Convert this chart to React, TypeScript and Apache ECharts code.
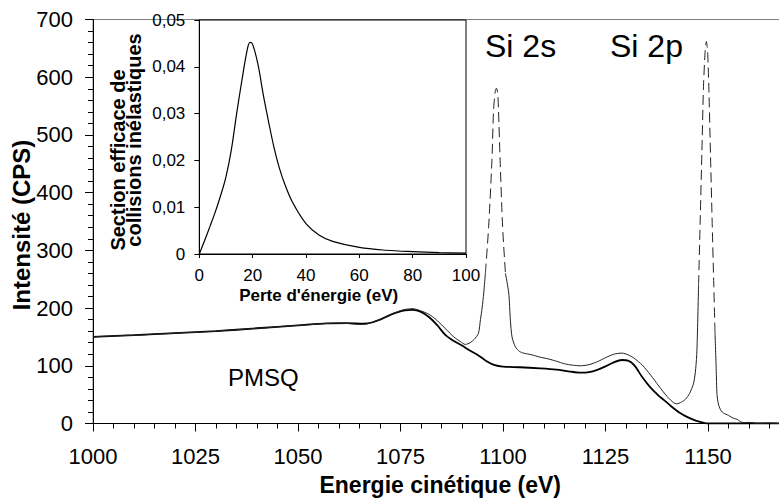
import React, { useEffect, useRef } from 'react';
import * as echarts from 'echarts';

// Main spectrum (thin line): kinetic energy (eV) and intensity (CPS)
const spectrumEnergy = [
  1000, 1002.5, 1005, 1007.5, 1010, 1012.5, 1015, 1017.5, 1020, 1022.5, 1025, 1027.5, 1030, 1032.5,
  1035, 1037.5, 1040, 1042.5, 1045, 1047.5, 1050, 1052.5, 1055, 1057.5, 1060, 1062.5, 1065, 1066.5,
  1068, 1070, 1072, 1074, 1076, 1078, 1080, 1082, 1084, 1086, 1088, 1089.6, 1090.8, 1092, 1093,
  1094, 1094.5, 1094.9, 1095.3, 1095.7, 1096.5, 1097.3, 1097.7, 1098.1, 1098.4, 1098.7, 1098.9,
  1099.3, 1099.9, 1100.6, 1101.4, 1101.8, 1102.2, 1103, 1104, 1105, 1107, 1109, 1111, 1113, 1115,
  1117, 1119, 1121, 1123, 1125, 1127, 1129, 1130.5, 1132, 1134, 1136, 1138, 1140, 1141.6, 1142.4,
  1143.5, 1144.5, 1145.5, 1146.5, 1147, 1147.3, 1147.7, 1148.1, 1148.5, 1148.9, 1149.3, 1149.6,
  1149.9, 1150.2, 1150.6, 1151.0, 1151.4, 1151.7, 1152.0, 1152.2, 1152.6, 1153.2, 1153.8, 1155,
  1156.2, 1157.2, 1157.9, 1159, 1160, 1162, 1165, 1168, 1175
];
const spectrumCounts = [
  150, 151, 151.5, 152.5, 153, 153.5, 155, 155.5, 156.5, 157.5, 158, 159, 160, 161.5,
  162.5, 163.5, 165, 166, 167.5, 169, 170, 171, 172.5, 173.5, 174, 173, 171.5, 172,
  175, 180, 187, 193, 197.5, 199, 195, 189, 178, 164, 150, 142, 137, 140, 146,
  156, 180, 200, 226, 260, 341, 456, 543, 575, 581, 573, 543,
  456, 341, 260, 226, 179, 150, 133, 125, 122, 119, 115, 112, 108, 103.5,
  101, 100, 102, 107, 114, 120, 122, 119, 113, 101, 84, 65, 47, 36, 34,
  37, 42, 52, 70, 95, 127, 240, 353, 468, 584, 645, 662,
  645, 584, 468, 353, 243, 160, 95, 50, 32, 22, 18, 14,
  9, 7, 3, 1.5, 2, 0.5, 1, 0, 0.5
];

// Smooth background curve (thick line)
const backgroundEnergy = [
  1000, 1010, 1020, 1030, 1040, 1050, 1057, 1062, 1066, 1068, 1070, 1072, 1074, 1076, 1078, 1080,
  1082, 1084, 1086, 1088, 1090, 1092, 1094, 1096, 1098, 1100, 1104, 1109, 1113, 1116, 1119, 1121,
  1123, 1125, 1127, 1129, 1130.5, 1132, 1134, 1136, 1138, 1139.2, 1141, 1143, 1145, 1147, 1148.5,
  1150, 1175
];
const backgroundCounts = [
  150, 153, 156.5, 160, 165, 170, 173.5, 174, 173, 175, 180, 186.5, 192, 196, 197, 193.5,
  184, 170, 153, 143, 135, 126, 118, 108, 101, 98.5, 97.5, 95.6, 93.5, 90.5, 88, 89,
  93, 99, 106, 110, 109, 101, 80, 62, 48, 41, 30, 19, 11, 5, 2,
  0, 0
];

// Parts of the spectrum drawn dashed (the Si 2s and Si 2p peaks)
const dashedPeakRanges = [
  [1095.7, 1100.6],
  [1147.7, 1151.7]
];

// Inset: inelastic collision cross-section vs energy loss
const lossEnergy = [0, 2, 4, 6, 8, 10, 12, 14, 16, 18, 19, 20, 22, 24, 26, 28, 30, 32, 35, 40, 45, 50, 60, 70, 80, 90, 100];
const lossCrossSection = [
  0, 0.0029, 0.0059, 0.009, 0.0125, 0.0165, 0.0222, 0.03, 0.0372, 0.0437, 0.0452, 0.0448, 0.0405,
  0.034, 0.0282, 0.0228, 0.0184, 0.015, 0.011, 0.0065, 0.004, 0.0027, 0.0014, 0.0008, 0.0005,
  0.0003, 0.0002
];

const peakLabels = ['Si 2s', 'Si 2p'];
const sampleLabel = 'PMSQ';

const FONT = '"Liberation Sans", Arial, Helvetica, sans-serif';

function pairs(xs: number[], ys: number[]) {
  return xs.map((x, i) => [x, ys[i]]);
}

function buildSegments() {
  const pts = pairs(spectrumEnergy, spectrumCounts);
  const solid: number[][][] = [];
  const dashed: number[][][] = [];
  let start = spectrumEnergy[0];
  dashedPeakRanges.forEach(([a, b]) => {
    solid.push(pts.filter((p) => p[0] >= start && p[0] <= a));
    dashed.push(pts.filter((p) => p[0] >= a && p[0] <= b));
    start = b;
  });
  solid.push(pts.filter((p) => p[0] >= start));
  return { solid, dashed };
}

export default function App() {
  const ref = useRef<HTMLDivElement>(null);

  useEffect(() => {
    if (!ref.current) return;
    const chart = echarts.init(ref.current, undefined, { renderer: 'svg' });
    const { solid, dashed } = buildSegments();

    const solidSeries = solid.map((d) => ({
      type: 'line',
      xAxisIndex: 0,
      yAxisIndex: 0,
      data: d,
      showSymbol: false,
      smooth: 0.25,
      lineStyle: { color: '#222', width: 1 },
      z: 4,
    }));
    const dashedSeries = dashed.map((d) => ({
      type: 'line',
      xAxisIndex: 0,
      yAxisIndex: 0,
      data: d,
      showSymbol: false,
      smooth: 0.25,
      lineStyle: { color: '#222', width: 1, type: [10, 5] },
      z: 4,
    }));

    const option: any = {
      animation: false,
      backgroundColor: '#fff',
      grid: [
        {
          left: 93, top: 19.5, width: 717.5, height: 404, outerBoundsMode: 'none', containLabel: false,
          show: true, borderColor: '#808080', borderWidth: 1, backgroundColor: 'transparent',
        },
        {
          left: 199.3, top: 20, width: 266.7, height: 234, outerBoundsMode: 'none', containLabel: false,
          show: true, borderColor: '#000', borderWidth: 1, backgroundColor: '#fff', z: 5,
        },
      ],
      xAxis: [
        {
          gridIndex: 0, type: 'value', min: 1000, max: 1175, interval: 25,
          name: 'Energie cinétique (eV)', nameLocation: 'middle', nameGap: 50,
          nameTextStyle: { fontFamily: FONT, fontSize: 23, fontWeight: 'bold', color: '#000', padding: [0, 23, 0, 0] },
          axisLine: { show: true, onZero: false, lineStyle: { color: '#000', width: 1 } },
          axisTick: { show: true, inside: false, length: 8, lineStyle: { color: '#000' } },
          minorTick: { show: true, splitNumber: 5, length: 5, lineStyle: { color: '#000' } },
          axisLabel: {
            margin: 22, fontFamily: FONT, fontSize: 22, color: '#000', showMaxLabel: false,
            formatter: (v: number) => String(v),
          },
          splitLine: { show: false },
          minorSplitLine: { show: false },
        },
        {
          gridIndex: 1, type: 'value', min: 0, max: 100, interval: 20,
          name: "Perte d'énergie (eV)", nameLocation: 'middle', nameGap: 33,
          nameTextStyle: { fontFamily: FONT, fontSize: 17, fontWeight: 'bold', color: '#000', padding: [0, 28, 0, 0] },
          axisLine: { show: true, onZero: false, lineStyle: { color: '#000', width: 1 } },
          axisTick: { show: true, inside: false, length: 4, lineStyle: { color: '#000' } },
          axisLabel: { margin: 13, fontFamily: FONT, fontSize: 17, color: '#000', formatter: (v: number) => String(v) },
          splitLine: { show: false },
          z: 10,
        },
      ],
      yAxis: [
        {
          gridIndex: 0, type: 'value', min: 0, max: 700, interval: 100,
          axisLine: { show: true, onZero: false, lineStyle: { color: '#000', width: 1 } },
          axisTick: { show: true, inside: false, length: 8, lineStyle: { color: '#000' } },
          minorTick: { show: true, splitNumber: 5, length: 5, lineStyle: { color: '#000' } },
          axisLabel: { margin: 20, fontFamily: FONT, fontSize: 22, color: '#000', formatter: (v: number) => String(v) },
          splitLine: { show: false },
          minorSplitLine: { show: false },
        },
        {
          gridIndex: 1, type: 'value', min: 0, max: 0.05, interval: 0.01,
          axisLine: { show: true, onZero: false, lineStyle: { color: '#000', width: 1 } },
          axisTick: { show: true, inside: false, length: 5, lineStyle: { color: '#000' } },
          axisLabel: {
            margin: 14, fontFamily: FONT, fontSize: 17, color: '#000',
            formatter: (v: number) => (v === 0 ? '0' : v.toFixed(2).replace('.', ',')),
          },
          splitLine: { show: false },
          z: 10,
        },
      ],
      series: [
        {
          type: 'line', xAxisIndex: 0, yAxisIndex: 0,
          data: pairs(backgroundEnergy, backgroundCounts),
          showSymbol: false, smooth: 0.3,
          lineStyle: { color: '#000', width: 1.8 },
          z: 3,
        },
        ...solidSeries,
        ...dashedSeries,
        {
          type: 'line', xAxisIndex: 1, yAxisIndex: 1,
          data: pairs(lossEnergy, lossCrossSection),
          showSymbol: false, smooth: 0.35,
          lineStyle: { color: '#000', width: 1.2 },
          z: 10,
        },
      ],
      graphic: [
        {
          type: 'text', x: 21, y: 225, rotation: Math.PI / 2, z: 20,
          style: { text: 'Intensité (CPS)', font: `bold 24px ${FONT}`, fill: '#000', align: 'center', verticalAlign: 'middle' },
        },
        {
          type: 'text', x: 117.5, y: 160, rotation: Math.PI / 2, z: 20,
          style: { text: 'Section efficace de', font: `bold 20px ${FONT}`, fill: '#000', align: 'center', verticalAlign: 'middle' },
        },
        {
          type: 'text', x: 134, y: 140, rotation: Math.PI / 2, z: 20,
          style: { text: 'collisions inélastiques', font: `bold 20px ${FONT}`, fill: '#000', align: 'center', verticalAlign: 'middle' },
        },
        {
          type: 'text', x: 485, y: 45.5, z: 20,
          style: { text: peakLabels[0], font: `32px ${FONT}`, fill: '#000', align: 'left', verticalAlign: 'middle' },
        },
        {
          type: 'text', x: 610, y: 45.5, z: 20,
          style: { text: peakLabels[1], font: `32px ${FONT}`, fill: '#000', align: 'left', verticalAlign: 'middle' },
        },
        {
          type: 'text', x: 228, y: 377, z: 20,
          style: { text: sampleLabel, font: `24px ${FONT}`, fill: '#000', align: 'left', verticalAlign: 'middle' },
        },
      ],
    };

    chart.setOption(option);
    return () => chart.dispose();
  }, []);

  return (
    <div
      ref={ref}
      style={{ position: 'absolute', left: 0, top: 0, width: 779, height: 499, background: '#fff' }}
    />
  );
}
